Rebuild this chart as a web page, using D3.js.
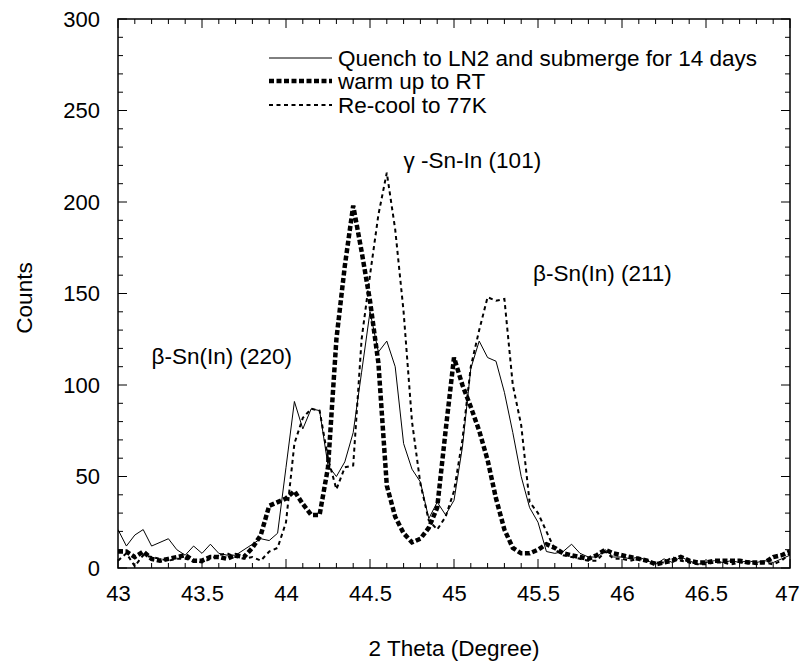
<!DOCTYPE html>
<html>
<head>
<meta charset="utf-8">
<script src="https://cdn.jsdelivr.net/npm/d3@7"></script>
<style>
  body { margin: 0; background: #fff; }
  svg { font-family: "Liberation Sans", Arial, sans-serif; }
</style>
</head>
<body>
<div id="chart"></div>
<script>
// 2 theta values, step 0.05 degree
const thetaStart = 43, thetaStep = 0.05;

const quench = [21, 12, 18, 21, 12, 14, 16, 10, 7, 12, 8, 13, 8, 7, 7, 10, 13, 16, 15, 19,
  55, 91, 76, 87, 86, 56, 50, 58, 74, 107, 140, 118, 124, 110, 68, 54, 47, 27, 36, 29,
  37, 66, 109, 124, 115, 113, 96, 74, 50, 33, 25, 9, 8, 9, 13, 8, 6, 6, 10, 6,
  6, 5, 6, 4, 2, 5, 3, 6, 4, 2, 3, 4, 3, 4, 3, 4, 3, 4, 3, 5, 7];

const warmUp = [9, 9, 6, 9, 5, 4, 5, 6, 7, 4, 4, 6, 6, 5, 7, 6, 11, 18, 34, 36,
  38, 42, 35, 29, 29, 55, 125, 165, 198, 173, 146, 112, 45, 28, 19, 14, 16, 22, 33, 75,
  115, 100, 88, 75, 59, 38, 21, 11, 8, 8, 10, 13, 11, 8, 7, 6, 5, 7, 10, 8,
  7, 6, 5, 4, 2, 3, 4, 6, 4, 3, 3, 4, 4, 4, 4, 3, 3, 3, 6, 7, 9];

const reCool = [4, 8, 1, 7, 6, 5, 4, 5, 5, 4, 3, 5, 7, 8, 6, 5, 6, 4, 9, 11,
  25, 68, 82, 87, 86, 60, 43, 55, 56, 125, 160, 193, 216, 185, 140, 80, 46, 26, 21, 28,
  42, 70, 110, 130, 148, 146, 147, 100, 78, 36, 30, 20, 10, 7, 6, 5, 4, 4, 9, 5,
  5, 4, 5, 4, 3, 3, 6, 4, 3, 2, 2, 3, 3, 2, 3, 3, 2, 3, 2, 4, 8];

const seriesNames = ["Quench to LN2 and submerge for 14 days", "warm up to RT", "Re-cool to 77K"];
const xTicks = [43, 43.5, 44, 44.5, 45, 45.5, 46, 46.5, 47];
const yTicks = [0, 50, 100, 150, 200, 250, 300];

const peakLabels = [
  { text: "\u03b2-Sn(In) (220)", x: 43.2, y: 116 },
  { text: "\u03b3 -Sn-In (101)", x: 44.7, y: 223 },
  { text: "\u03b2-Sn(In) (211)", x: 45.47, y: 161 }
];

const width = 801, height = 661;
const margin = { top: 19, right: 11, bottom: 93, left: 118 };
const plotW = width - margin.left - margin.right;
const plotH = height - margin.top - margin.bottom;

const svg = d3.select("#chart")
    .append("svg")
    .attr("width", width)
    .attr("height", height);

const g = svg.append("g")
    .attr("transform", `translate(${margin.left}, ${margin.top})`);

const xScale = d3.scaleLinear().domain([43, 47]).range([0, plotW]);
const yScale = d3.scaleLinear().domain([0, 300]).range([plotH, 0]);

const minorX = d3.range(430, 471).map(d => d / 10);
const minorY = d3.range(0, 301, 10);

// Bottom axis with labels
const bottomAxis = g.append("g")
    .attr("transform", `translate(0, ${plotH})`)
    .call(d3.axisBottom(xScale).tickValues(xTicks).tickFormat(d3.format("")).tickSize(0).tickPadding(17));
bottomAxis.select(".domain").remove();
bottomAxis.selectAll("text").style("font-size", "22px").attr("fill", "#000");
// last label sits at the window edge, pull it in a little
bottomAxis.selectAll(".tick").filter(d => d === 47).select("text").attr("dx", -3);

const leftAxis = g.append("g")
    .call(d3.axisLeft(yScale).tickValues(yTicks).tickSize(0).tickPadding(18));
leftAxis.select(".domain").remove();
leftAxis.selectAll("text").style("font-size", "22px").attr("fill", "#000");

// Inward tick marks on all four sides
const ticks = g.append("g").attr("stroke", "#000").attr("stroke-width", 1);
minorX.forEach(v => {
    const major = Math.abs(v * 2 - Math.round(v * 2)) < 1e-6;
    const len = major ? 9 : 5;
    const x = xScale(v);
    ticks.append("line").attr("x1", x).attr("x2", x).attr("y1", plotH).attr("y2", plotH - len);
    ticks.append("line").attr("x1", x).attr("x2", x).attr("y1", 0).attr("y2", len);
});
minorY.forEach(v => {
    const len = v % 50 === 0 ? 9 : 5;
    const y = yScale(v);
    ticks.append("line").attr("x1", 0).attr("x2", len).attr("y1", y).attr("y2", y);
    ticks.append("line").attr("x1", plotW).attr("x2", plotW - len).attr("y1", y).attr("y2", y);
});

// Frame
g.append("rect")
    .attr("width", plotW)
    .attr("height", plotH)
    .attr("fill", "none")
    .attr("stroke", "#000")
    .attr("stroke-width", 1.5);

// Clip for data lines
svg.append("defs").append("clipPath").attr("id", "clip")
    .append("rect").attr("width", plotW).attr("height", plotH);

const line = d3.line()
    .x((d, i) => xScale(thetaStart + i * thetaStep))
    .y(d => yScale(d));

const styles = [
    { data: quench, width: 1, dash: null },
    { data: warmUp, width: 4.5, dash: "5,2.5" },
    { data: reCool, width: 2, dash: "4,3.5" }
];

const lines = g.append("g").attr("clip-path", "url(#clip)");
styles.forEach(s => {
    lines.append("path")
        .datum(s.data)
        .attr("fill", "none")
        .attr("stroke", "#000")
        .attr("stroke-width", s.width)
        .attr("stroke-dasharray", s.dash)
        .attr("d", line);
});

// Legend
const legend = svg.append("g");
const legendY = [58, 81, 105];
styles.forEach((s, i) => {
    legend.append("line")
        .attr("x1", 269).attr("x2", 332)
        .attr("y1", legendY[i]).attr("y2", legendY[i])
        .attr("stroke", "#000")
        .attr("stroke-width", s.width)
        .attr("stroke-dasharray", s.dash);
    legend.append("text")
        .attr("x", 338)
        .attr("y", legendY[i])
        .attr("dy", "0.35em")
        .style("font-size", "22.5px")
        .text(seriesNames[i]);
});

// Peak annotations
peakLabels.forEach(p => {
    g.append("text")
        .attr("x", xScale(p.x))
        .attr("y", yScale(p.y))
        .attr("dy", "0.35em")
        .style("font-size", "22.5px")
        .text(p.text);
});

// Axis titles
svg.append("text")
    .attr("x", margin.left + plotW / 2)
    .attr("y", 648)
    .attr("dy", "0.35em")
    .attr("text-anchor", "middle")
    .style("font-size", "22.5px")
    .text("2 Theta (Degree)");

svg.append("text")
    .attr("transform", "rotate(-90)")
    .attr("x", -298)
    .attr("y", 24)
    .attr("dy", "0.35em")
    .attr("text-anchor", "middle")
    .style("font-size", "22.5px")
    .text("Counts");
</script>
</body>
</html>
